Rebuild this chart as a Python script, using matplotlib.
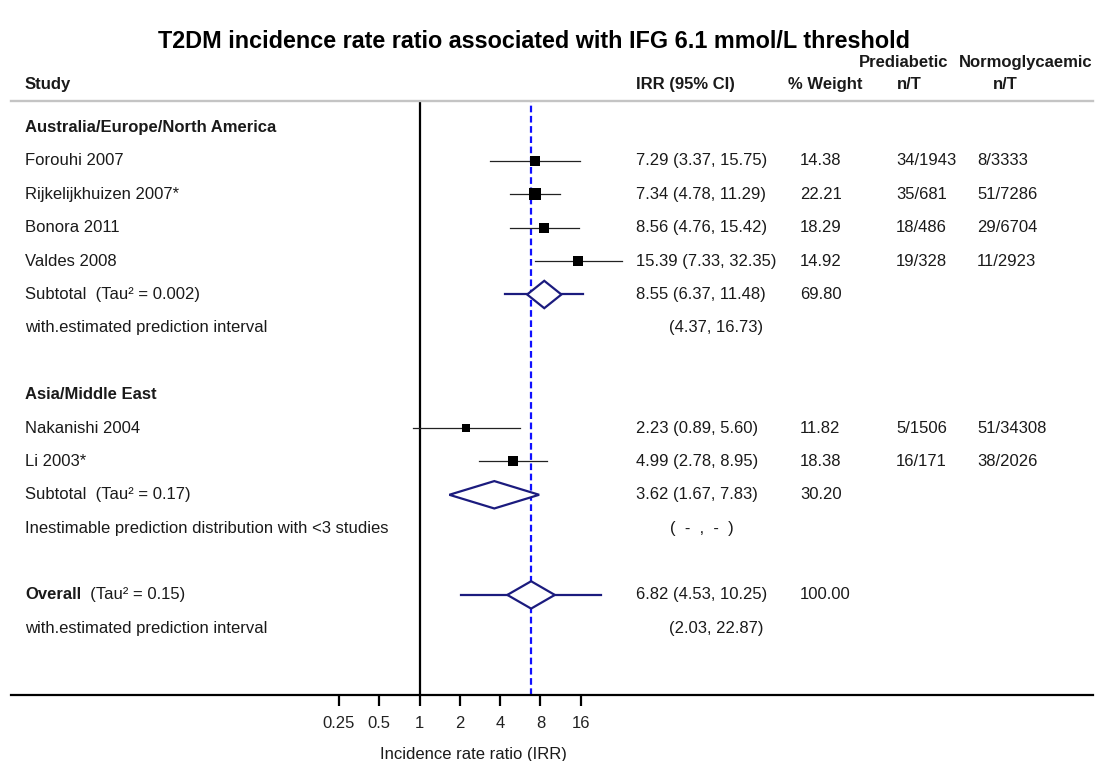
import matplotlib
matplotlib.use("Agg")
import numpy as np
import matplotlib.pyplot as plt
import matplotlib.transforms as mtransforms

plt.rcParams['font.family'] = ['Liberation Sans', 'DejaVu Sans']

# study level data
studies = ["Forouhi 2007", "Rijkelijkhuizen 2007*", "Bonora 2011", "Valdes 2008",
           "Nakanishi 2004", "Li 2003*"]
study_rows = [1, 2, 3, 4, 9, 10]
irr = [7.29, 7.34, 8.56, 15.39, 2.23, 4.99]
ci_lo = [3.37, 4.78, 4.76, 7.33, 0.89, 2.78]
ci_hi = [15.75, 11.29, 15.42, 32.35, 5.60, 8.95]
weight = [14.38, 22.21, 18.29, 14.92, 11.82, 18.38]
prediab_nt = ["34/1943", "35/681", "18/486", "19/328", "5/1506", "16/171"]
normo_nt = ["8/3333", "51/7286", "29/6704", "11/2923", "51/34308", "38/2026"]

# pooled estimates: subtotal 1, subtotal 2, overall
pool_rows = [5, 11, 14]
pool_tau2 = ["0.002", "0.17", "0.15"]
pool_irr = [8.55, 3.62, 6.82]
pool_lo = [6.37, 1.67, 4.53]
pool_hi = [11.48, 7.83, 10.25]
pool_weight = [69.80, 30.20, 100.00]
pi_lo = [4.37, None, 2.03]
pi_hi = [16.73, None, 22.87]

groups = ["Australia/Europe/North America", "Asia/Middle East"]
group_rows = [0, 8]
xticks = [0.25, 0.5, 1, 2, 4, 8, 16]

W, H = 1095, 761
fig = plt.figure(figsize=(W / 100, H / 100), dpi=100)
ax = fig.add_axes([11 / W, (H - 695) / H, (1093 - 11) / W, (695 - 101) / H])
ax.set_xscale('log', base=2)
ax.set_xlim(2 ** ((11 - 419.5) / 40.3), 2 ** ((1093 - 419.5) / 40.3))
ax.set_ylim((695 - 127.6) / 33.38, (101 - 127.6) / 33.38)

for s in ['left', 'right']:
    ax.spines[s].set_visible(False)
ax.spines['top'].set_color('#c4c4c4')
ax.spines['top'].set_linewidth(1.7)
ax.spines['bottom'].set_linewidth(1.6)
ax.set_yticks([])
ax.set_xticks(xticks)
ax.set_xticklabels([f"{t:g}" for t in xticks])
ax.minorticks_off()
ax.tick_params(axis='x', length=8, width=1.6, pad=7, labelsize=12, labelcolor='#222222')

navy = '#1b1b7e'
txtc = '#1a1a1a'
fs = 12

ax.axvline(1, color='black', lw=1.6, zorder=2)
ax.axvline(pool_irr[2], color='#1010ff', lw=1.6, ls=(0, (3.0, 1.6)), zorder=1)

# study boxes and confidence intervals
for r, m, lo, hi, w in zip(study_rows, irr, ci_lo, ci_hi, weight):
    ax.plot([lo, hi], [r, r], color='#222222', lw=0.9, zorder=3)
    side = 2.38 * np.sqrt(w) * 0.72
    ax.scatter([m], [r], marker='s', s=side ** 2, color='black', zorder=4, linewidths=0)

# pooled diamonds with prediction intervals
for r, m, lo, hi, plo, phi in zip(pool_rows, pool_irr, pool_lo, pool_hi, pi_lo, pi_hi):
    if plo is not None:
        ax.plot([plo, lo], [r, r], color=navy, lw=1.6, zorder=3)
        ax.plot([hi, phi], [r, r], color=navy, lw=1.6, zorder=3)
    ax.fill([lo, m, hi, m], [r, r - 0.41, r, r + 0.41], facecolor='white',
            edgecolor=navy, lw=1.6, zorder=5)

tr = mtransforms.blended_transform_factory(fig.transFigure, ax.transData)


def put(xpx, row, s, **kw):
    kw.setdefault('fontsize', fs)
    kw.setdefault('color', txtc)
    return ax.text(xpx / W, row, s, transform=tr, ha='left', va='center',
                   clip_on=False, **kw)


# column headers
hdr = (85 - 127.6) / 33.38
hdr2 = (63 - 127.6) / 33.38
put(25, hdr, "Study", fontweight='bold')
put(636, hdr, "IRR (95% CI)", fontweight='bold')
put(788, hdr, "% Weight", fontweight='bold')
put(897, hdr, "n/T", fontweight='bold')
put(993, hdr, "n/T", fontweight='bold')
put(859, hdr2, "Prediabetic", fontweight='bold')
put(959, hdr2, "Normoglycaemic", fontweight='bold')

for g, r in zip(groups, group_rows):
    put(25, r, g, fontweight='bold')

for name, r, m, lo, hi, w, p, n in zip(studies, study_rows, irr, ci_lo, ci_hi,
                                       weight, prediab_nt, normo_nt):
    put(25, r, name)
    put(636, r, f"{m:.2f} ({lo:.2f}, {hi:.2f})")
    put(800, r, f"{w:.2f}")
    put(896, r, p)
    put(977, r, n)

for i, (r, t, m, lo, hi, w, plo, phi) in enumerate(zip(pool_rows, pool_tau2, pool_irr, pool_lo,
                                                        pool_hi, pool_weight, pi_lo, pi_hi)):
    if i < 2:
        put(25, r, f"Subtotal  (Tau\u00b2 = {t})")
    else:
        lab = put(25, r, "Overall", fontweight='bold')
        ax.annotate(f"  (Tau\u00b2 = {t})", xy=(1, 0), xycoords=lab, ha='left', va='bottom',
                    fontsize=fs, color=txtc, annotation_clip=False)
    put(636, r, f"{m:.2f} ({lo:.2f}, {hi:.2f})")
    put(800, r, f"{w:.2f}")
    if plo is not None:
        put(25, r + 1, "with.estimated prediction interval")
        put(669, r + 1, f"({plo:.2f}, {phi:.2f})")
    else:
        put(25, r + 1, "Inestimable prediction distribution with <3 studies")
        put(670, r + 1, "(  -  ,  -  )")

fig.text(534 / W, 1 - 42 / H, "T2DM incidence rate ratio associated with IFG 6.1 mmol/L threshold",
         ha='center', va='center', fontsize=16.8, fontweight='bold', color='black')
fig.text(473 / W, 1 - 754 / H, "Incidence rate ratio (IRR)", ha='center', va='center',
         fontsize=fs, color=txtc)

fig.savefig("out.png", dpi=100)
